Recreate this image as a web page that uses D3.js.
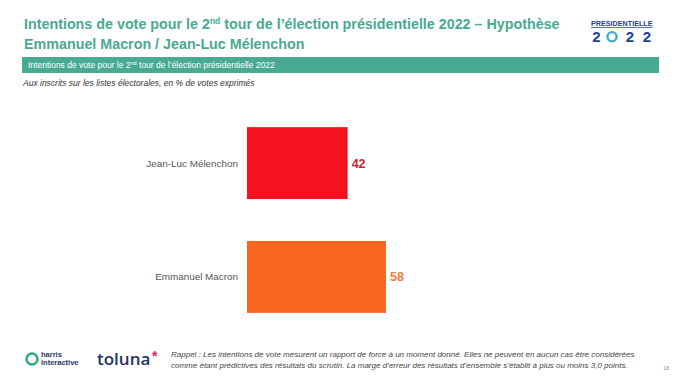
<!DOCTYPE html>
<html>
<head>
<meta charset="utf-8">
<script src="https://cdn.jsdelivr.net/npm/d3@7"></script>
<style>
  body { margin: 0; background: #fff; }
  svg { display: block; font-family: Arial, "Liberation Sans", sans-serif; }
</style>
</head>
<body>
<div id="chart"></div>
<script>
// data
let candidates = ['Jean-Luc Mélenchon', 'Emmanuel Macron']
let votes = [42, 58]
let barColors = ['#f5111f', '#fb661f']
let labelColors = ['#cc1f2c', '#f07a3c']

let W = 680, H = 382
let teal = '#48aa92'

let svg = d3.select('#chart')
    .append('svg')
    .attr('width', W)
    .attr('height', H)

// title
let title = svg.append('text')
    .attr('x', 24)
    .attr('y', 29)
    .attr('fill', teal)
    .style('font-size', '14.3px')
    .style('font-weight', 'bold')
title.append('tspan').text('Intentions de vote pour le 2')
title.append('tspan').text('nd').attr('dy', -5).style('font-size', '8.5px')
title.append('tspan').text(' tour de l’élection présidentielle 2022 – Hypothèse').attr('dy', 5)
svg.append('text')
    .attr('x', 24)
    .attr('y', 49)
    .attr('fill', teal)
    .style('font-size', '14.3px')
    .style('font-weight', 'bold')
    .text('Emmanuel Macron / Jean-Luc Mélenchon')

// logo top right
svg.append('text')
    .attr('x', 591)
    .attr('y', 26)
    .attr('fill', '#1d3f8f')
    .style('font-size', '7.2px')
    .style('font-weight', 'bold')
    .style('text-decoration', 'underline')
    .text('PRESIDENTIELLE')
let logoX = [596.5, 630, 647]
logoX.forEach(cx => {
    svg.append('text')
        .attr('x', cx)
        .attr('y', 42)
        .attr('text-anchor', 'middle')
        .attr('fill', '#1d3f8f')
        .style('font-size', '15px')
        .style('font-weight', 'bold')
        .text('2')
})
svg.append('circle')
    .attr('cx', 612)
    .attr('cy', 36.8)
    .attr('r', 4.6)
    .attr('fill', 'none')
    .attr('stroke', '#3ab0c8')
    .attr('stroke-width', 2.3)

// banner
svg.append('rect')
    .attr('x', 22)
    .attr('y', 57)
    .attr('width', 637)
    .attr('height', 16)
    .attr('fill', teal)
let ban = svg.append('text')
    .attr('x', 28)
    .attr('y', 68)
    .attr('fill', '#fff')
    .style('font-size', '8.5px')
ban.append('tspan').text('Intentions de vote pour le 2')
ban.append('tspan').text('nd').attr('dy', -3).style('font-size', '5.5px')
ban.append('tspan').text(' tour de l’élection présidentielle 2022').attr('dy', 3)

svg.append('text')
    .attr('x', 23)
    .attr('y', 86)
    .attr('fill', '#333')
    .style('font-size', '8.5px')
    .style('font-style', 'italic')
    .text('Aux inscrits sur les listes électorales, en % de votes exprimés')

// chart
let x = d3.scaleLinear()
    .domain([0, 58])
    .range([247, 386])

let y = d3.scaleBand()
    .domain(candidates)
    .range([93, 347])
    .paddingInner(0.368)
    .paddingOuter(0.3)

let rows = candidates.map((c, i) => ({ name: c, value: votes[i], color: barColors[i], lab: labelColors[i] }))

svg.selectAll('.bar')
    .data(rows)
    .join('rect')
    .attr('class', 'bar')
    .attr('x', x(0))
    .attr('y', d => y(d.name))
    .attr('width', d => x(d.value) - x(0))
    .attr('height', y.bandwidth())
    .attr('fill', d => d.color)

svg.selectAll('.cat')
    .data(rows)
    .join('text')
    .attr('class', 'cat')
    .attr('x', x(0) - 9)
    .attr('y', d => y(d.name) + y.bandwidth() / 2 + 3.5)
    .attr('text-anchor', 'end')
    .attr('fill', '#555')
    .style('font-size', '9.9px')
    .text(d => d.name)

svg.selectAll('.val')
    .data(rows)
    .join('text')
    .attr('class', 'val')
    .attr('x', d => x(d.value) + 4)
    .attr('y', d => y(d.name) + y.bandwidth() / 2 + 4.5)
    .attr('fill', d => d.lab)
    .style('font-size', '12.5px')
    .style('font-weight', 'bold')
    .text(d => d.value)

// footer logos
svg.append('circle')
    .attr('cx', 32)
    .attr('cy', 359)
    .attr('r', 5.5)
    .attr('fill', 'none')
    .attr('stroke', '#2aa58a')
    .attr('stroke-width', 2.4)
svg.append('text')
    .attr('x', 41).attr('y', 357)
    .attr('fill', '#1d3566')
    .style('font-size', '7.5px').style('font-weight', 'bold')
    .text('harris')
svg.append('text')
    .attr('x', 41).attr('y', 365)
    .attr('fill', '#1d3566')
    .style('font-size', '7.5px').style('font-weight', 'bold')
    .text('interactive')
svg.append('text')
    .attr('x', 97).attr('y', 365)
    .attr('fill', '#1d3566')
    .style('font-size', '17px').style('font-weight', '600')
    .style('font-family', '"Open Sans", Arial, sans-serif')
    .text('toluna')
svg.append('text')
    .attr('x', 152).attr('y', 361)
    .attr('fill', '#e0245a')
    .style('font-size', '14px').style('font-weight', 'bold')
    .text('*')

let note = ['Rappel : Les intentions de vote mesurent un rapport de force à un moment donné. Elles ne peuvent en aucun cas être considérées',
    'comme étant prédictives des résultats du scrutin. La marge d’erreur des résultats d’ensemble s’établit à plus ou moins 3,0 points.']
svg.selectAll('.note')
    .data(note)
    .join('text')
    .attr('class', 'note')
    .attr('x', 171)
    .attr('y', (d, i) => 357 + i * 11)
    .attr('fill', '#444')
    .style('font-size', '8px')
    .style('font-style', 'italic')
    .text(d => d)

svg.append('text')
    .attr('x', 663).attr('y', 370)
    .attr('fill', '#999')
    .style('font-size', '5.5px')
    .text('18')
</script>
</body>
</html>
